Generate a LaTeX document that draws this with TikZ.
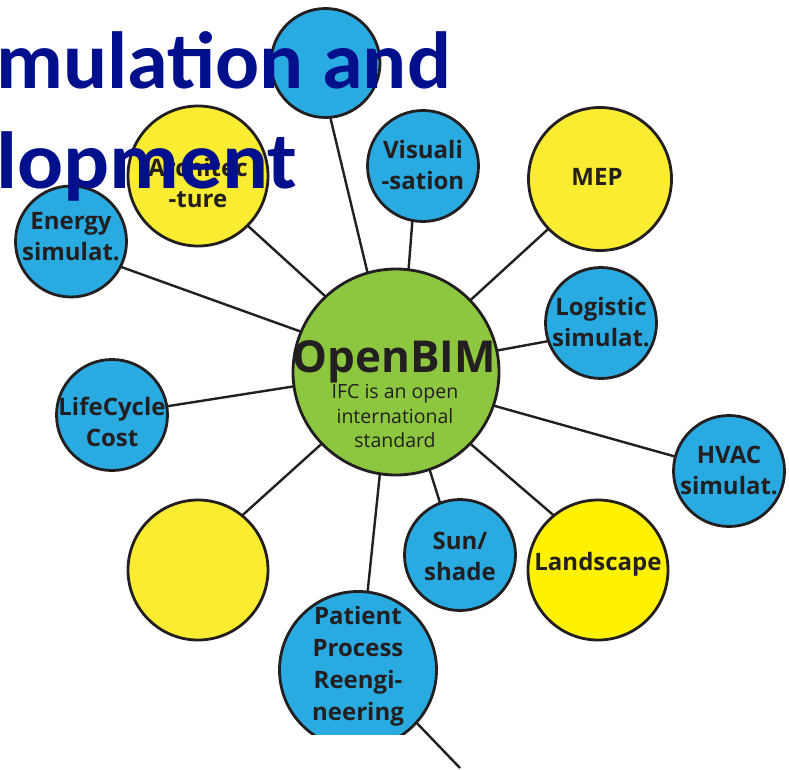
\documentclass[tikz,border=0pt]{standalone}
\usepackage{fontspec}
\setmainfont{Open Sans}
\newfontfamily\titlefont{Carlito}
\definecolor{ink}{HTML}{231F20}
\definecolor{bblue}{HTML}{29ABE2}
\definecolor{byel}{HTML}{F9EC31}
\definecolor{lyel}{HTML}{FFF200}
\definecolor{bgreen}{HTML}{8DC63F}
\definecolor{navy}{HTML}{000F8C}
\tikzset{
  bub/.style={circle, draw=ink, line width=2.8pt, inner sep=0pt, outer sep=0pt},
  blu/.style={bub, fill=bblue, minimum size=111pt},
  yel/.style={bub, fill=byel, minimum size=140pt},
  lbl/.style={font=\fontsize{24}{31}\selectfont\bfseries, text=ink, align=center, inner sep=0pt},
  link/.style={draw=ink, line width=2.4pt},
  ttl/.style={font=\titlefont\fontsize{81}{100}\selectfont\bfseries, text=navy, inner sep=0pt, anchor=base west}
}
\begin{document}
\begin{tikzpicture}[x=1pt,y=-1pt]
\useasboundingbox[fill=white] (0,0) rectangle (789,770);

% hub
\node[bub, fill=bgreen, minimum size=206pt] (c) at (396,372) {};

% satellites
\node[blu, minimum size=109pt] (top) at (325.5,63) {};
\node[blu] (vis)    at (423,166) {};
\node[yel] (arch)   at (198,176) {};
\node[blu] (energy) at (71,241.5) {};
\node[yel, minimum size=143pt] (mep) at (600,179) {};
\node[blu] (log)    at (601,323) {};
\node[blu] (lc)     at (112,415) {};
\node[blu] (hvac)   at (729,471) {};
\node[yel] (blank)  at (198,570) {};
\node[blu] (sun)    at (460,555) {};
\node[yel, fill=lyel] (land) at (598,570) {};
\node[bub, fill=bblue, minimum size=157pt] (pp) at (358,670) {};

% the sheet ends below the last bubble
\fill[white] (0,735) rectangle (789,770);

% spokes
\coordinate (tail) at (460,768);
\draw[link] (c.106)  -- (top.-85);
\draw[link] (c.83)   -- (vis.-101);
\draw[link] (c.44)   -- (mep.-136);
\draw[link] (c.12)   -- (log.-161);
\draw[link] (c.-19)  -- (hvac.165);
\draw[link] (c.-44)  -- (land.129);
\draw[link] (c.-71)  -- (sun.111);
\draw[link] (c.-99)  -- (pp.83);
\draw[link] (c.-136) -- (blank.51);
\draw[link] (c.188)  -- (lc.9);
\draw[link] (c.157)  -- (energy.-27);
\draw[link] (c.133)  -- (arch.-45);
\draw[link] (pp.-42) -- (tail);

% labels
\node[font=\fontsize{44}{48}\selectfont\bfseries, text=ink, inner sep=0pt, anchor=base] (hubname) at (394,372) {OpenBIM};
\node[font=\fontsize{19.5}{24.5}\selectfont, text=ink, align=center, inner sep=0pt] (hubtext) at (395,416) {IFC is an open\\international\\standard};
\node[lbl] (vis-t)    at (423,165) {Visuali\\-sation};
\node[lbl] (arch-t)   at (198,183) {Architec\\-ture};
\node[lbl] (energy-t) at (71,237) {Energy\\simulat.};
\node[lbl] (mep-t)    at (597,177) {MEP};
\node[lbl] (log-t)    at (601,322) {Logistic\\simulat.};
\node[lbl] (lc-t)     at (112,422) {LifeCycle\\Cost};
\node[lbl] (hvac-t)   at (729,470) {HVAC\\simulat.};
\node[lbl] (sun-t)    at (460,556) {Sun/\\shade};
\node[lbl] (land-t)   at (598,564) {Landscape};
\node[lbl, font=\fontsize{24}{32}\selectfont\bfseries] (pp-t) at (358,666) {Patient\\Process\\Reengi-\\neering};

% heading over everything
\node[ttl, xscale=1.015] (ttl1) at (-4,89)  {mulation and};
\node[ttl, xscale=1.06] (ttl2) at (-4,189) {lopment};
\end{tikzpicture}
\end{document}
